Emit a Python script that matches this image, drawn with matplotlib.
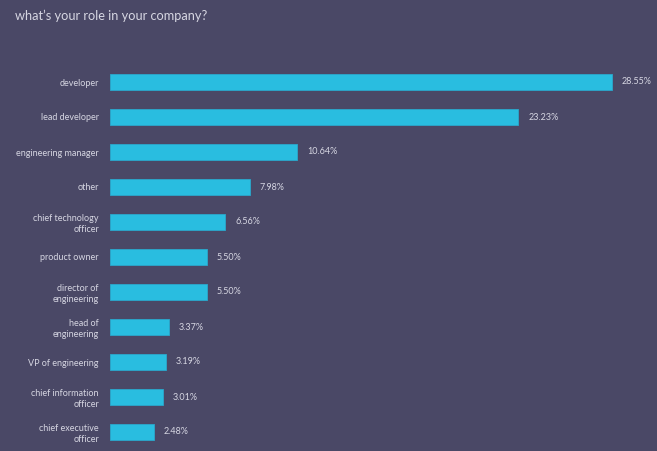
import matplotlib
matplotlib.use("Agg")
import matplotlib.pyplot as plt

plt.rcParams['font.family'] = ['Lato', 'DejaVu Sans']

categories = ["developer", "lead developer", "engineering manager", "other",
              "chief technology\nofficer", "product owner", "director of\nengineering",
              "head of\nengineering", "VP of engineering", "chief information\nofficer",
              "chief executive\nofficer"]
values = [28.55, 23.23, 10.64, 7.98, 6.56, 5.50, 5.50, 3.37, 3.19, 3.01, 2.48]
value_labels = ["28.55%", "23.23%", "10.64%", "7.98%", "6.56%", "5.50%", "5.50%",
                "3.37%", "3.19%", "3.01%", "2.48%"]

bg = "#4a4866"
bar_color = "#29bde0"
text_color = "#d6d6e2"

fig = plt.figure(figsize=(6.57, 4.51), dpi=100)
fig.patch.set_facecolor(bg)
ax = fig.add_axes([110/657, 1.5/451, 547/657, 385/451])
ax.set_facecolor(bg)

y = list(range(len(categories)))
ax.barh(y, values, height=0.47, color=bar_color, edgecolor="#2aa8cc", linewidth=0.6)
ax.set_ylim(len(categories) - 0.5, -0.5)
ax.set_xlim(0, 547/17.58)

for yi, v, lab in zip(y, values, value_labels):
    ax.annotate(lab, (v, yi), xytext=(7, 0), textcoords="offset points",
                va="center", ha="left", fontsize=6.5, color=text_color)

ax.set_yticks(y)
ax.set_yticklabels(categories, fontsize=6.5, color=text_color, linespacing=1.35)
ax.tick_params(axis="y", length=0, pad=8)
ax.set_xticks([])
for s in ax.spines.values():
    s.set_visible(False)

fig.text(15/657, 1 - 16/451, "what\u2019s your role in your company?", fontsize=9.2,
         color=text_color, ha="left", va="center")

fig.savefig("out.png", dpi=100, facecolor=bg)
